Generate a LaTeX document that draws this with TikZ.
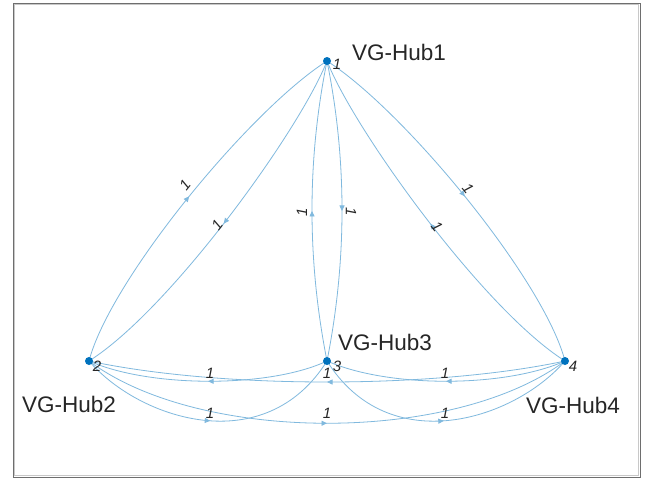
\documentclass[tikz,border=0pt]{standalone}
\usepackage{fontspec}
\setmainfont{Liberation Sans}
\usetikzlibrary{arrows.meta,decorations.markings}
\definecolor{edgeblue}{RGB}{128,185,222}
\definecolor{nodeblue}{RGB}{0,114,189}
\definecolor{txt}{RGB}{38,38,38}
\definecolor{framedark}{RGB}{110,110,110}
\definecolor{framelight}{RGB}{200,200,200}
\pgfdeclarelayer{bg}
\pgfsetlayers{bg,main}
\begin{document}
\begin{tikzpicture}[x=1pt,y=-1pt,
  hubdot/.style={circle,fill=nodeblue,inner sep=0pt,minimum size=8pt},
  edgeline/.style={draw=edgeblue,line width=0.8pt,postaction={decorate},
    decoration={markings,mark=at position 0.5 with {\arrow[edgeblue]{Triangle[length=5.5pt,width=5pt]}}}},
  hubname/.style={font=\fontsize{22.5}{26}\selectfont,text=txt,inner sep=0pt,anchor=base west},
  idlabel/.style={font=\fontsize{15}{17}\selectfont\itshape,text=txt,inner sep=0pt},
  wlabel/.style={font=\fontsize{15}{17}\selectfont\itshape,text=txt,inner sep=0pt},
]
\useasboundingbox (0,0) rectangle (645,479);

\node[hubdot] (n1) at (327,61) {};
\node[hubdot] (n2) at (89,361) {};
\node[hubdot] (n3) at (327,361) {};
\node[hubdot] (n4) at (565,361) {};

\begin{pgfonlayer}{bg}
\fill[white] (0,0) rectangle (645,479);
\draw[framelight,line width=0.8pt] (14.5,4.5) rectangle (638.5,475.5);
\draw[framedark,line width=1pt] (13,3) rectangle (640,477);
\draw[edgeline] (n2.center) .. controls (110,280) and (250,110) .. (n1.center);
\draw[edgeline] (n1.center) .. controls (300,130) and (170,310) .. (n2.center);
\draw[edgeline] (n3.center) .. controls (307,260) and (307,160) .. (n1.center);
\draw[edgeline] (n1.center) .. controls (347,160) and (347,260) .. (n3.center);
\draw[edgeline] (n1.center) .. controls (404,110) and (544,280) .. (n4.center);
\draw[edgeline] (n4.center) .. controls (484,310) and (354,130) .. (n1.center);
\draw[edgeline] (n3.center) .. controls (270,388) and (150,388) .. (n2.center);
\draw[edgeline] (n2.center) .. controls (140,420) and (265,460) .. (n3.center);
\draw[edgeline] (n4.center) .. controls (434,389) and (220,389) .. (n2.center);
\draw[edgeline] (n2.center) .. controls (200,444) and (454,444) .. (n4.center);
\draw[edgeline] (n4.center) .. controls (504,388) and (388,388) .. (n3.center);
\draw[edgeline] (n3.center) .. controls (389,460) and (514,420) .. (n4.center);
\end{pgfonlayer}

\node[idlabel] (id1) at (337,64) {1};
\node[idlabel] (id2) at (97,366) {2};
\node[idlabel] (id3) at (337,366) {3};
\node[idlabel] (id4) at (573,366) {4};

\node[hubname] (h1) at (352,60) {VG-Hub1};
\node[hubname] (h3) at (338,350) {VG-Hub3};
\node[hubname] (h2) at (22,412) {VG-Hub2};
\node[hubname] (h4) at (526,413) {VG-Hub4};

\node[wlabel,rotate=51] (w1) at (185,185) {1};
\node[wlabel,rotate=52] (w2) at (217,225) {1};
\node[wlabel,rotate=90] (w3) at (302,212) {1};
\node[wlabel,rotate=-90] (w4) at (351,212) {1};
\node[wlabel,rotate=-51] (w5) at (468,188) {1};
\node[wlabel,rotate=-52] (w6) at (437,227) {1};
\node[wlabel] (w7) at (210,373) {1};
\node[wlabel] (w8) at (210,413) {1};
\node[wlabel] (w9) at (327,373) {1};
\node[wlabel] (w10) at (327,413) {1};
\node[wlabel] (w11) at (445,373) {1};
\node[wlabel] (w12) at (445,413) {1};
\end{tikzpicture}
\end{document}
